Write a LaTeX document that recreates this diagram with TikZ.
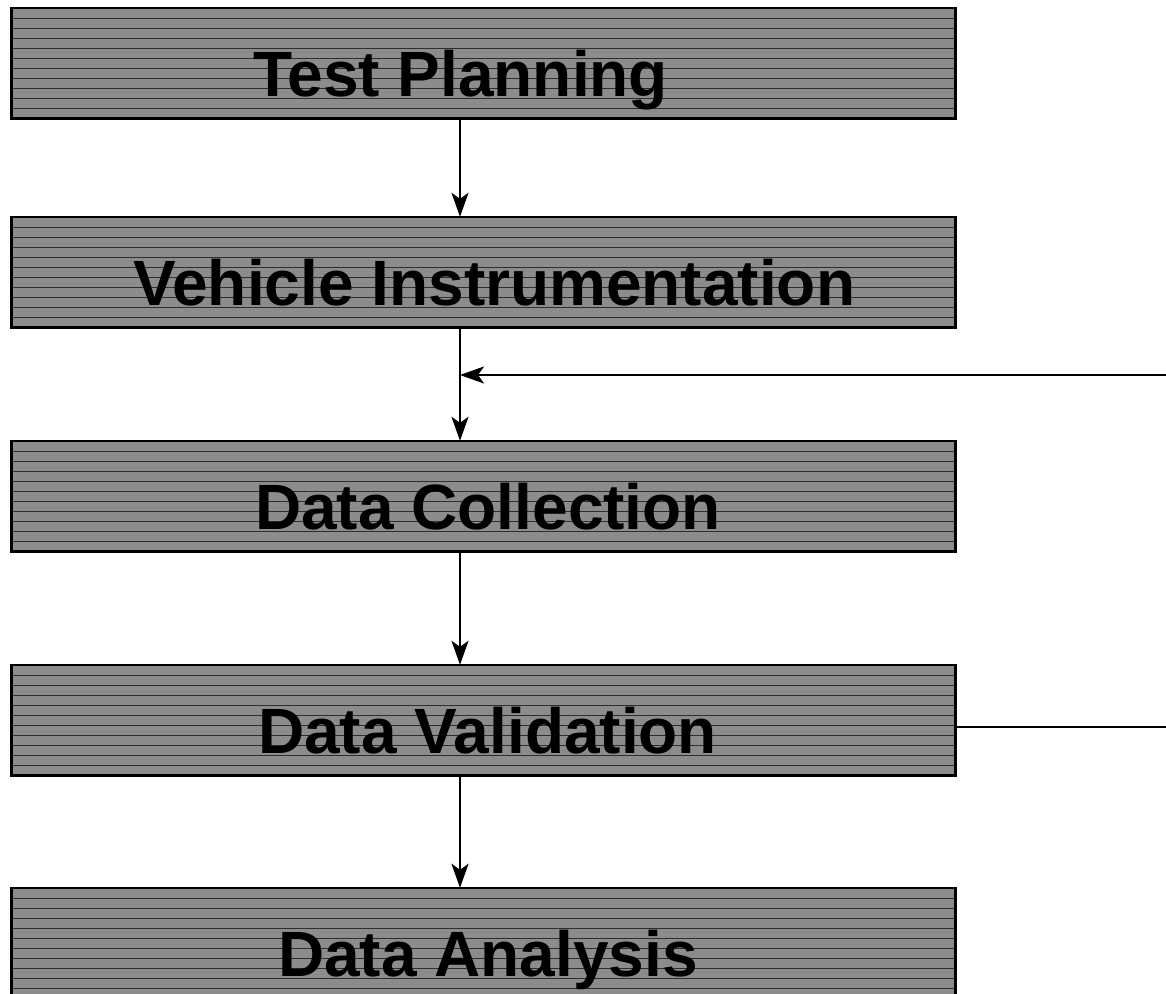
\documentclass[tikz,border=0pt]{standalone}
\usepackage{fontspec}
\setmainfont{Liberation Sans}
\usetikzlibrary{arrows.meta}
\definecolor{boxfill}{HTML}{8C8C8C}
\definecolor{hatch}{HTML}{2E2E2E}
\begin{document}
\begin{tikzpicture}[x=1bp,y=-1bp,
  stagebox/.style={fill=boxfill, rectangle,
    minimum width=943bp, minimum height=110bp, inner sep=0pt},
  hatchline/.style={hatch, line width=1.2bp},
  border/.style={draw=black, line width=2.6bp},
  stagetext/.style={anchor=base west, inner sep=0pt, font=\bfseries\fontsize{64bp}{76bp}\selectfont},
  conn/.style={line width=2.5bp, -{Stealth[length=24bp,width=17bp,inset=6bp]}},
  plain/.style={line width=2.5bp}
]
\useasboundingbox (0,0) rectangle (1166,994);
\coordinate (ax) at (460,0);

\node[stagebox] (b1) at (483.5,63) {};
\node[stagebox] (b2) at (483.5,272) {};
\node[stagebox] (b3) at (483.5,496) {};
\node[stagebox] (b4) at (483.5,720) {};
\node[stagebox] (b5) at (483.5,943) {};

\foreach \t in {8,217,441,665,888}{
  \foreach \k in {1,...,10}{
    \pgfmathsetmacro{\yy}{\t+10*\k+0.5}
    \draw[hatchline] (12,\yy) -- (955,\yy);
  }
}
\foreach \b in {b1,b2,b3,b4,b5}{
  \draw[border] (\b.north west) rectangle (\b.south east);
}

\node[stagetext] (t1) at (253,96) {Test Planning};
\node[stagetext] (t2) at (133,305) {Vehicle Instrumentation};
\node[stagetext] (t3) at (255,529) {Data Collection};
\node[stagetext] (t4) at (258,753) {Data Validation};
\node[stagetext] (t5) at (278,976) {Data Analysis};

\coordinate (r1) at (1166,375);
\coordinate (j) at (460,375);
\coordinate (r2) at (1166,727);

\draw[conn] (b1.south -| ax) -- (b2.north -| ax);
\draw[conn] (b2.south -| ax) -- (b3.north -| ax);
\draw[conn] (b3.south -| ax) -- (b4.north -| ax);
\draw[conn] (b4.south -| ax) -- (b5.north -| ax);
\draw[conn] (r1) -- (j);
\draw[plain] (b4.east |- r2) -- (r2);
\end{tikzpicture}
\end{document}
